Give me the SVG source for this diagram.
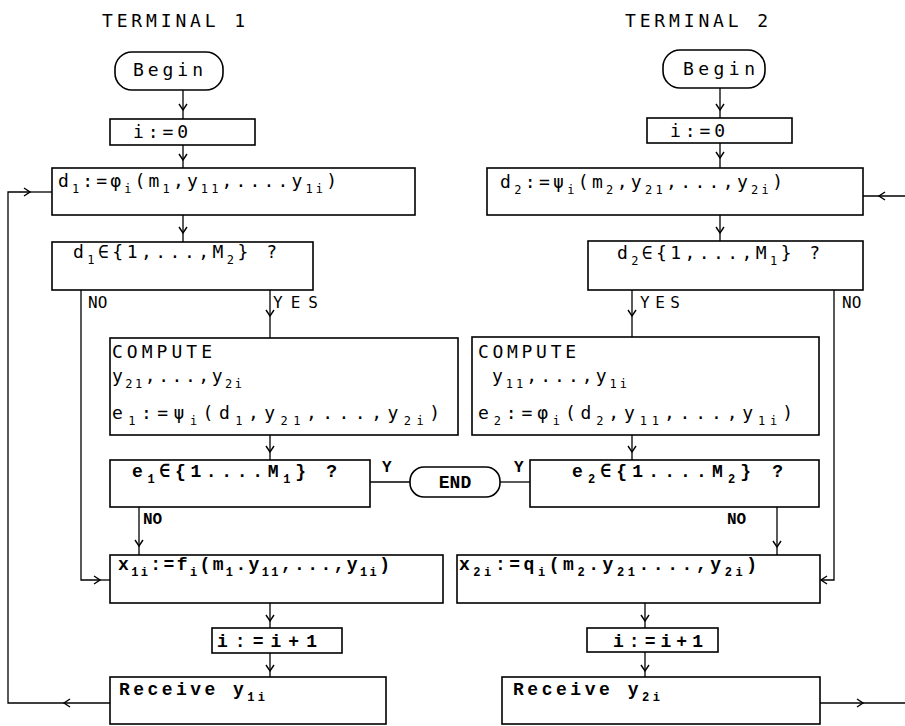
<svg xmlns="http://www.w3.org/2000/svg" width="905" height="726" viewBox="0 0 905 726">
<style>
.bx{fill:#fff;stroke:#000;stroke-width:1.6}
.ln{fill:none;stroke:#000;stroke-width:1.3}
.t{font-family:"DejaVu Sans Mono","Liberation Mono",monospace;font-size:18px;fill:#000}
.c{font-family:"Liberation Mono","DejaVu Sans Mono",monospace;font-size:18px;font-weight:bold;fill:#000}
.lb{font-size:16px}
.s{font-size:12px}
</style>
<defs>
<marker id="ah" viewBox="-8 -6 10 12" refX="0" refY="0" markerWidth="10" markerHeight="12" markerUnits="userSpaceOnUse" orient="auto">
<path d="M-6,-4 L0,0 L-6,4" fill="none" stroke="#000" stroke-width="1.4"/>
</marker>
</defs>
<rect width="905" height="726" fill="#fff"/>
<g id="titles">
<text class="t" x="102" y="27" font-size="17" textLength="143" lengthAdjust="spacing">TERMINAL 1</text>
<text class="t" x="625" y="27" font-size="17" textLength="143" lengthAdjust="spacing">TERMINAL 2</text>
</g>
<g id="connectors">
<path class="ln" marker-mid="url(#ah)" d="M183 90 L183 110 L183 119"/>
<path class="ln" marker-mid="url(#ah)" d="M183 145 L183 160 L183 168"/>
<path class="ln" marker-mid="url(#ah)" d="M183 215 L183 233 L183 242"/>
<path class="ln" marker-mid="url(#ah)" d="M270 290 L270 316 L270 338"/>
<path class="ln" marker-end="url(#ah)" d="M81 290 V580 H100"/>
<path class="ln" d="M100 580 H110"/>
<path class="ln" marker-mid="url(#ah)" d="M270 435 L270 452 L270 460"/>
<path class="ln" d="M370 482 H410"/>
<path class="ln" marker-mid="url(#ah)" d="M139 507 L139 546 L139 555"/>
<path class="ln" marker-mid="url(#ah)" d="M270 603 L270 621 L270 628"/>
<path class="ln" marker-mid="url(#ah)" d="M270 653 L270 671 L270 677"/>
<path class="ln" marker-end="url(#ah)" d="M110 703 H64"/>
<path class="ln" marker-end="url(#ah)" d="M64 703 H8 V192 H30"/>
<path class="ln" d="M30 192 H52"/>
<path class="ln" marker-mid="url(#ah)" d="M720 88 L720 110 L720 118"/>
<path class="ln" marker-mid="url(#ah)" d="M720 143 L720 158 L720 168"/>
<path class="ln" marker-mid="url(#ah)" d="M720 215 L720 233 L720 241"/>
<path class="ln" marker-mid="url(#ah)" d="M632 290 L632 316 L632 337"/>
<path class="ln" marker-end="url(#ah)" d="M834 290 V580 H821"/>
<path class="ln" marker-mid="url(#ah)" d="M905 196 L879 196 L863 196"/>
<path class="ln" marker-mid="url(#ah)" d="M632 435 L632 452 L632 460"/>
<path class="ln" d="M500 482 H530"/>
<path class="ln" marker-mid="url(#ah)" d="M777 507 L777 547 L777 555"/>
<path class="ln" marker-mid="url(#ah)" d="M645 603 L645 621 L645 628"/>
<path class="ln" marker-mid="url(#ah)" d="M645 652 L645 671 L645 677"/>
<path class="ln" marker-mid="url(#ah)" d="M820 703 L863 703 L905 703"/>
</g>
<g id="labels">
<text class="t lb" x="88" y="308">NO</text>
<text class="t lb" x="273" y="308" textLength="45" lengthAdjust="spacing">YES</text>
<text class="c lb" x="382" y="472">Y</text>
<text class="c lb" x="143" y="524">NO</text>
<text class="t lb" x="640" y="308" textLength="40" lengthAdjust="spacing">YES</text>
<text class="t lb" x="842" y="308">NO</text>
<text class="c lb" x="514" y="472">Y</text>
<text class="c lb" x="727" y="524">NO</text>
</g>
<g id="begin1">
<rect class="bx" x="115" y="52" width="108" height="38" rx="17"/>
<text class="t" x="133" y="76" textLength="70" lengthAdjust="spacing">Begin</text>
</g>
<g id="init1">
<rect class="bx" x="110" y="119" width="145" height="26"/>
<text class="t" x="133" y="138" textLength="55" lengthAdjust="spacing">i:=0</text>
</g>
<g id="d1">
<rect class="bx" x="52" y="168" width="363" height="47"/>
<text class="t" x="58" y="187" textLength="279" lengthAdjust="spacing">d<tspan class="s" dy="6">1</tspan><tspan dy="-6">:=φ</tspan><tspan class="s" dy="6">i</tspan><tspan dy="-6">(m</tspan><tspan class="s" dy="6">1</tspan><tspan dy="-6">,y</tspan><tspan class="s" dy="6">11</tspan><tspan dy="-6">,....y</tspan><tspan class="s" dy="6">1i</tspan><tspan dy="-6">)</tspan></text>
</g>
<g id="test1">
<rect class="bx" x="52" y="242" width="261" height="48"/>
<text class="t" x="73" y="258" textLength="204" lengthAdjust="spacing">d<tspan class="s" dy="6">1</tspan><tspan dy="-6">∈{1,...,M</tspan><tspan class="s" dy="6">2</tspan><tspan dy="-6">} ?</tspan></text>
</g>
<g id="compute1">
<rect class="bx" x="110" y="338" width="348" height="97"/>
<text class="t" x="112" y="358" textLength="100" lengthAdjust="spacing">COMPUTE</text>
<text class="t" x="112" y="382" textLength="130" lengthAdjust="spacing">y<tspan class="s" dy="6">21</tspan><tspan dy="-6">,...,y</tspan><tspan class="s" dy="6">2i</tspan></text>
<text class="t" x="112" y="419" textLength="328" lengthAdjust="spacing">e<tspan class="s" dy="6">1</tspan><tspan dy="-6">:=ψ</tspan><tspan class="s" dy="6">i</tspan><tspan dy="-6">(d</tspan><tspan class="s" dy="6">1</tspan><tspan dy="-6">,y</tspan><tspan class="s" dy="6">21</tspan><tspan dy="-6">,...,y</tspan><tspan class="s" dy="6">2i</tspan><tspan dy="-6">)</tspan></text>
</g>
<g id="test2a">
<rect class="bx" x="110" y="460" width="260" height="47"/>
<text class="c" x="132" y="477" textLength="205" lengthAdjust="spacing">e<tspan class="s" dy="6">1</tspan><tspan dy="-6">∈{1....M</tspan><tspan class="s" dy="6">1</tspan><tspan dy="-6">} ?</tspan></text>
</g>
<g id="end">
<rect class="bx" x="410" y="467" width="90" height="30" rx="14"/>
<text class="c" x="455" y="488" text-anchor="middle">END</text>
</g>
<g id="x1">
<rect class="bx" x="110" y="555" width="333" height="48"/>
<text class="c" x="118" y="570" textLength="272" lengthAdjust="spacing">x<tspan class="s" dy="6">1i</tspan><tspan dy="-6">:=f</tspan><tspan class="s" dy="6">i</tspan><tspan dy="-6">(m</tspan><tspan class="s" dy="6">1</tspan><tspan dy="-6">.y</tspan><tspan class="s" dy="6">11</tspan><tspan dy="-6">,...,y</tspan><tspan class="s" dy="6">1i</tspan><tspan dy="-6">)</tspan></text>
</g>
<g id="inc1">
<rect class="bx" x="212" y="628" width="130" height="25"/>
<text class="c" x="217" y="647" textLength="100" lengthAdjust="spacing">i:=i+1</text>
</g>
<g id="recv1">
<rect class="bx" x="110" y="677" width="276" height="47"/>
<text class="c" x="119" y="695" textLength="146" lengthAdjust="spacing">Receive y<tspan class="s" dy="6">1i</tspan></text>
</g>
<g id="begin2">
<rect class="bx" x="663" y="50" width="102" height="38" rx="17"/>
<text class="t" x="683" y="75" textLength="72" lengthAdjust="spacing">Begin</text>
</g>
<g id="init2">
<rect class="bx" x="647" y="118" width="145" height="25"/>
<text class="t" x="670" y="137" textLength="55" lengthAdjust="spacing">i:=0</text>
</g>
<g id="d2">
<rect class="bx" x="487" y="168" width="376" height="47"/>
<text class="t" x="500" y="188" textLength="283" lengthAdjust="spacing">d<tspan class="s" dy="6">2</tspan><tspan dy="-6">:=ψ</tspan><tspan class="s" dy="6">i</tspan><tspan dy="-6">(m</tspan><tspan class="s" dy="6">2</tspan><tspan dy="-6">,y</tspan><tspan class="s" dy="6">21</tspan><tspan dy="-6">,...,y</tspan><tspan class="s" dy="6">2i</tspan><tspan dy="-6">)</tspan></text>
</g>
<g id="test3">
<rect class="bx" x="588" y="241" width="275" height="49"/>
<text class="t" x="617" y="259" textLength="203" lengthAdjust="spacing">d<tspan class="s" dy="6">2</tspan><tspan dy="-6">∈{1,...,M</tspan><tspan class="s" dy="6">1</tspan><tspan dy="-6">} ?</tspan></text>
</g>
<g id="compute2">
<rect class="bx" x="472" y="337" width="347" height="98"/>
<text class="t" x="478" y="358" textLength="98" lengthAdjust="spacing">COMPUTE</text>
<text class="t" x="492" y="382" textLength="135" lengthAdjust="spacing">y<tspan class="s" dy="6">11</tspan><tspan dy="-6">,...,y</tspan><tspan class="s" dy="6">1i</tspan></text>
<text class="t" x="478" y="419" textLength="315" lengthAdjust="spacing">e<tspan class="s" dy="6">2</tspan><tspan dy="-6">:=φ</tspan><tspan class="s" dy="6">i</tspan><tspan dy="-6">(d</tspan><tspan class="s" dy="6">2</tspan><tspan dy="-6">,y</tspan><tspan class="s" dy="6">11</tspan><tspan dy="-6">,...,y</tspan><tspan class="s" dy="6">1i</tspan><tspan dy="-6">)</tspan></text>
</g>
<g id="test4">
<rect class="bx" x="530" y="460" width="289" height="47"/>
<text class="c" x="572" y="477" textLength="211" lengthAdjust="spacing">e<tspan class="s" dy="6">2</tspan><tspan dy="-6">∈{1....M</tspan><tspan class="s" dy="6">2</tspan><tspan dy="-6">} ?</tspan></text>
</g>
<g id="x2">
<rect class="bx" x="457" y="555" width="363" height="48"/>
<text class="c" x="459" y="570" textLength="298" lengthAdjust="spacing">x<tspan class="s" dy="6">2i</tspan><tspan dy="-6">:=q</tspan><tspan class="s" dy="6">i</tspan><tspan dy="-6">(m</tspan><tspan class="s" dy="6">2</tspan><tspan dy="-6">.y</tspan><tspan class="s" dy="6">21</tspan><tspan dy="-6">....,y</tspan><tspan class="s" dy="6">2i</tspan><tspan dy="-6">)</tspan></text>
</g>
<g id="inc2">
<rect class="bx" x="587" y="628" width="131" height="24"/>
<text class="c" x="613" y="647" textLength="90" lengthAdjust="spacing">i:=i+1</text>
</g>
<g id="recv2">
<rect class="bx" x="502" y="677" width="318" height="47"/>
<text class="c" x="513" y="695" textLength="147" lengthAdjust="spacing">Receive y<tspan class="s" dy="6">2i</tspan></text>
</g>
</svg>
